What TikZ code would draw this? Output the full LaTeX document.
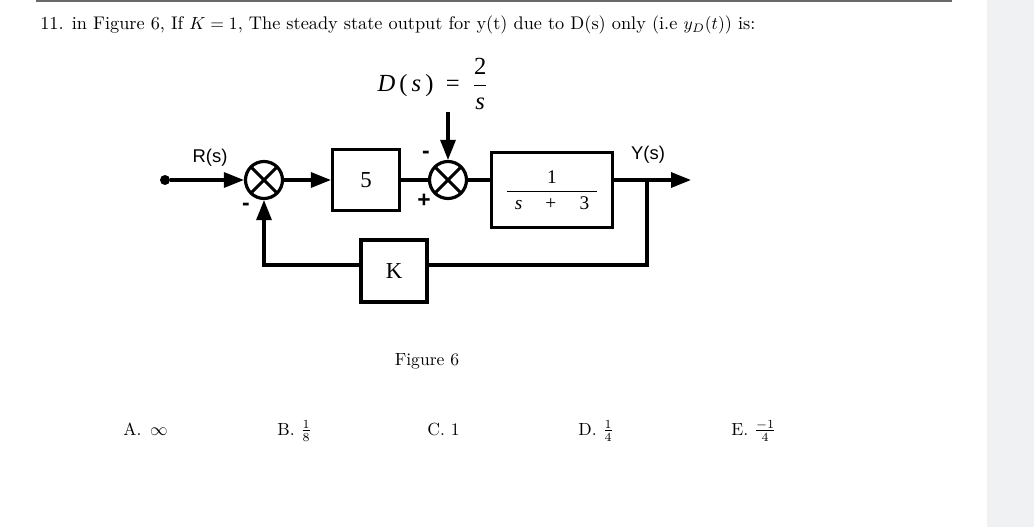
\documentclass[tikz,border=0pt]{standalone}
\usepackage{amsmath}
\usepackage{fontspec}
\newfontfamily\timesfont{Liberation Serif}
\newfontfamily\arialfont{Liberation Sans}
\usetikzlibrary{arrows.meta,positioning,calc}
\definecolor{PanelGray}{RGB}{240,241,243}
\definecolor{RuleGray}{RGB}{105,105,105}

\begin{document}
\begin{tikzpicture}[x=0.02cm, y=-0.02cm,
    block/.style={draw, line width=1.8pt, minimum width=1.34cm, minimum height=1.22cm, inner sep=0pt, font=\timesfont\fontsize{13}{15}\selectfont},
    summer/.style={draw, circle, line width=1.8pt, minimum size=0.74cm, inner sep=0pt,
      path picture={\draw[line width=1.8pt] (path picture bounding box.north west) -- (path picture bounding box.south east)
        (path picture bounding box.south west) -- (path picture bounding box.north east);}},
    sig/.style={line width=1.8pt},
    arrow/.style={sig, -{Triangle[length=4mm, width=3mm]}},
    sign/.style={font=\arialfont\fontsize{13}{14}\selectfont\bfseries},
    lbl/.style={font=\arialfont\fontsize{10.5}{12}\selectfont},
    ans/.style={anchor=base west, inner sep=0pt, font=\fontsize{10}{12}\selectfont}
  ]
    \useasboundingbox (0,0) rectangle (1034,527);
    \fill[PanelGray] (987,0) rectangle (1034,527);
    \draw[RuleGray, line width=1.1pt] (36,0.6) -- (952,0.6);

    % question
    \node[anchor=base west, inner sep=0pt, font=\fontsize{10.4}{12}\selectfont] (question) at (40,30)
      {11. in Figure 6, If $K = 1$, The steady state output for y(t) due to D(s) only (i.e $y_D(t)$) is:};

    % block diagram
    \node[circle, fill, inner sep=0pt, minimum size=0.2cm] (start) at (165,180) {};
    \node[summer] (sum1) at (264,180) {};
    \node[block] (gain) at (366,180) {5};
    \node[summer] (sum2) at (448,180) {};
    \node[block, minimum width=2.42cm, minimum height=1.5cm, font=\timesfont\fontsize{11}{13}\selectfont] (plant) at (552,190)
      {$\dfrac{\mbox{1}}{\mbox{\itshape\ \,s\hspace{1.2em}\upshape+\hspace{1.2em}3\ \,}}$};
    \node[block, minimum width=1.32cm, minimum height=1.24cm] (fbk) at (394,271) {K};
    \node[font=\timesfont\fontsize{14}{16}\selectfont] (dist) at (433,84)
      {\itshape D\,\upshape(\,\itshape s\,\upshape)\ \ = \ $\dfrac{\mbox{2}}{\mbox{\itshape s}}$};
    \coordinate (dtop) at (448,112);
    \coordinate (branch) at (647,180);
    \coordinate (out) at (691,180);
    \coordinate (corner) at (647,265);

    \draw[arrow] (start) -- (sum1);
    \draw[arrow] (sum1) -- (gain);
    \draw[sig] (gain) -- (sum2);
    \draw[sig] (sum2) -- (sum2 -| plant.west);
    \draw[arrow] (dtop) -- (sum2);
    \draw[arrow] (plant.east |- out) -- (out);
    \draw[sig] (branch) -- (corner) -- (corner -| fbk.east);
    \draw[arrow] (corner -| fbk.west) -| (sum1);

    % labels and signs
    \node[lbl] (rlabel) at (210,158) {R(s)};
    \node[lbl] (ylabel) at (648,155) {Y(s)};
    \node[sign] (m1) at (246,207) {-};
    \node[sign] (m2) at (426,155) {-};
    \node[sign] (p2) at (424,201) {+};
    \node[font=\fontsize{10}{12}\selectfont] (caption) at (427,361) {Figure 6};

    % answers
    \node[ans] (ansA) at (123,435) {A.\enspace$\infty$};
    \node[ans] (ansB) at (277,435) {B. $\frac{1}{8}$};
    \node[ans] (ansC) at (427,435) {C. 1};
    \node[ans] (ansD) at (578,435) {D. $\frac{1}{4}$};
    \node[ans] (ansE) at (731,435) {E. $\frac{-1}{4}$};
\end{tikzpicture}
\end{document}
